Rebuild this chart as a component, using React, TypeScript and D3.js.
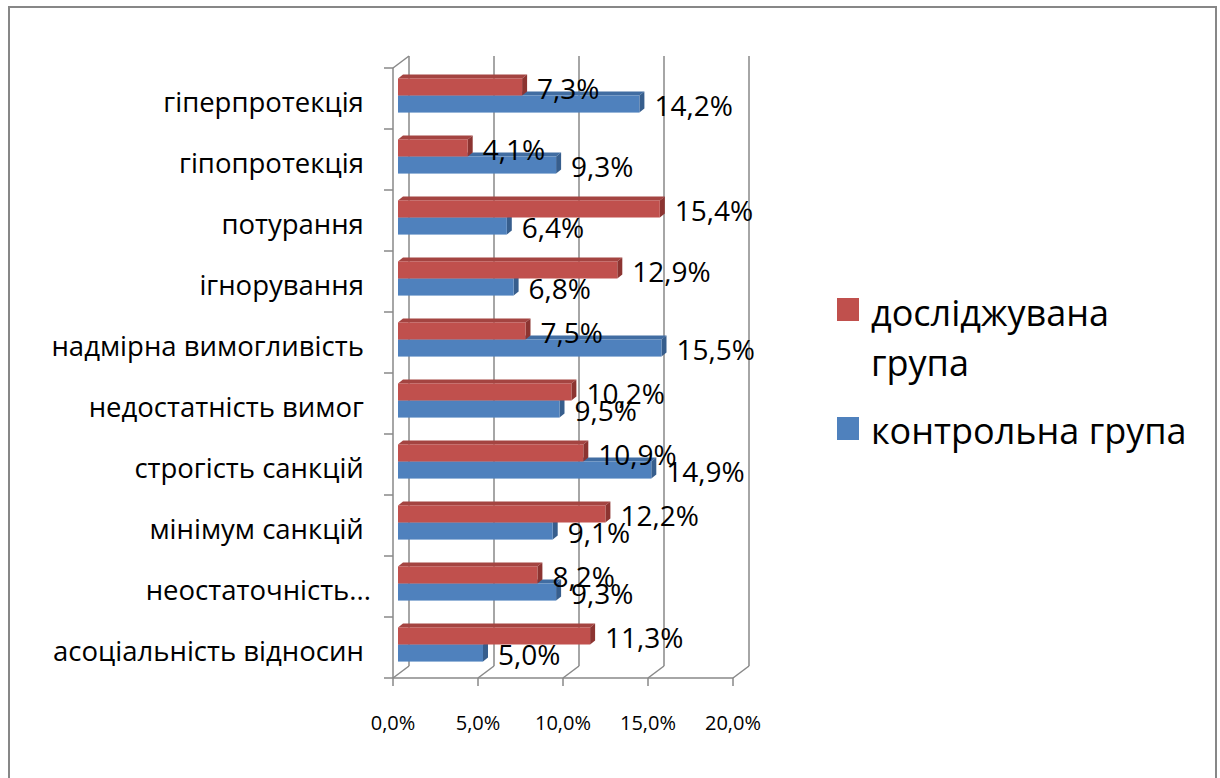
import * as d3 from 'd3';

// categories from top to bottom, as they appear in the chart
const categories = [
  'гіперпротекція',
  'гіпопротекція',
  'потурання',
  'ігнорування',
  'надмірна вимогливість',
  'недостатність вимог',
  'строгість санкцій',
  'мінімум санкцій',
  'неостаточність...',
  'асоціальність відносин',
];
const studyGroup = [7.3, 4.1, 15.4, 12.9, 7.5, 10.2, 10.9, 12.2, 8.2, 11.3];
const controlGroup = [14.2, 9.3, 6.4, 6.8, 15.5, 9.5, 14.9, 9.1, 9.3, 5.0];
const xTicks = [0, 5, 10, 15, 20];
const seriesNames = ['досліджувана група', 'контрольна група'];

const W = 1220;
const H = 778;
const plot = { left: 393, right: 733, top: 68, bottom: 678 };
const wall = { dx: 16, dy: 12 }; // depth of the back wall
const barShift = { dx: 5, dy: 3 }; // bar front face, pushed into depth
const barDepth = { dx: 5, dy: 4 };
const font = '"Open Sans", "Noto Sans", sans-serif';
const gridColor = '#888888';

const series = [
  { key: 'study', values: studyGroup, front: '#C0504D', top: '#A44441', side: '#8C3431' },
  { key: 'control', values: controlGroup, front: '#4F81BD', top: '#416DA2', side: '#375E8D' },
];

const pct = (v: number) => d3.format('.1f')(v).replace('.', ',') + '%';

export default function App() {
  const x = d3.scaleLinear().domain([0, 20]).range([plot.left, plot.right]);
  const y = d3.scaleBand<string>().domain(categories).range([plot.top, plot.bottom])
    .paddingInner(0.44).paddingOuter(0.22);
  const sub = d3.scaleBand<string>().domain(series.map(s => s.key)).range([0, y.bandwidth()]);
  const step = y.step();
  const bounds = d3.range(categories.length + 1).map(i => plot.top + i * step);

  const bar = (cat: string, s: typeof series[number], v: number) => {
    const x0 = x(0) + barShift.dx;
    const x1 = x(v) + barShift.dx;
    const y0 = (y(cat) ?? 0) + (sub(s.key) ?? 0) - barShift.dy;
    const h = sub.bandwidth();
    const { dx, dy } = barDepth;
    return (
      <g key={s.key + cat}>
        <polygon points={`${x0},${y0} ${x1},${y0} ${x1 + dx},${y0 - dy} ${x0 + dx},${y0 - dy}`} fill={s.top} />
        <polygon points={`${x1},${y0} ${x1 + dx},${y0 - dy} ${x1 + dx},${y0 + h - dy} ${x1},${y0 + h}`} fill={s.side} />
        <rect x={x0} y={y0} width={x1 - x0} height={h} fill={s.front} />
      </g>
    );
  };

  const label = (cat: string, s: typeof series[number], v: number) => {
    const y0 = (y(cat) ?? 0) + (sub(s.key) ?? 0) - barShift.dy;
    return (
      <text key={'l' + s.key + cat} x={x(v) + barShift.dx + 15} y={y0 + sub.bandwidth() / 2 + 1}
        dominantBaseline="central" fontSize={28} fill="#000" fontFamily={font}>
        {pct(v)}
      </text>
    );
  };

  return (
    <svg width={W} height={H} style={{ position: 'absolute', left: 0, top: 0, background: '#fff' }}>
      <rect x={9} y={7} width={1207} height={820} fill="#fff" stroke="#878787" strokeWidth={2} />

      {/* back wall gridlines and floor */}
      <g stroke={gridColor} strokeWidth={1.5} fill="none">
        {xTicks.map(t => (
          <g key={t}>
            <line x1={x(t) + wall.dx} x2={x(t) + wall.dx} y1={plot.top - wall.dy} y2={plot.bottom - wall.dy} />
            <line x1={x(t)} y1={plot.bottom} x2={x(t) + wall.dx} y2={plot.bottom - wall.dy} />
            <line x1={x(t)} x2={x(t)} y1={plot.bottom} y2={plot.bottom + 8} />
          </g>
        ))}
        {/* side wall */}
        <line x1={plot.left} x2={plot.left} y1={plot.top} y2={plot.bottom} />
        <line x1={plot.left} y1={plot.top} x2={plot.left + wall.dx} y2={plot.top - wall.dy} />
        {bounds.map(b => (
          <line key={b} x1={plot.left - 9} x2={plot.left} y1={b} y2={b} />
        ))}
        <line x1={plot.left} x2={plot.right} y1={plot.bottom} y2={plot.bottom} />
      </g>

      {/* bars: control (lower) first so the study bar sits on top of it */}
      {categories.map((c, i) => (
        <g key={c}>
          {bar(c, series[1], series[1].values[i])}
          {bar(c, series[0], series[0].values[i])}
        </g>
      ))}

      {categories.map((c, i) => (
        <g key={'labels' + c}>
          {label(c, series[0], series[0].values[i])}
          {label(c, series[1], series[1].values[i])}
        </g>
      ))}

      {/* category axis labels (truncated one has no trailing space, as in Excel) */}
      {categories.map(c => (
        <text key={'c' + c} x={371} y={(y(c) ?? 0) + y.bandwidth() / 2 + 3} textAnchor="end"
          dominantBaseline="central" fontSize={27.5} fontFamily={font} fill="#000"
          style={{ whiteSpace: 'pre' }}>
          {c.endsWith('...') ? c : c + '\u00A0'}
        </text>
      ))}

      {/* value axis labels */}
      {xTicks.map(t => (
        <text key={'t' + t} x={x(t)} y={722} textAnchor="middle" dominantBaseline="central"
          fontSize={20} fontFamily={font} fill="#000">
          {pct(t)}
        </text>
      ))}

      {/* legend */}
      <g fontFamily={font} fontSize={36} fill="#000">
        <rect x={837} y={298} width={22} height={23} fill={series[0].front} />
        <text x={871} y={312} dominantBaseline="central">{seriesNames[0].split(' ')[0]}</text>
        <text x={871} y={362} dominantBaseline="central">{seriesNames[0].split(' ')[1]}</text>
        <rect x={837} y={417} width={22} height={23} fill={series[1].front} />
        <text x={871} y={430} dominantBaseline="central">{seriesNames[1]}</text>
      </g>
    </svg>
  );
}
